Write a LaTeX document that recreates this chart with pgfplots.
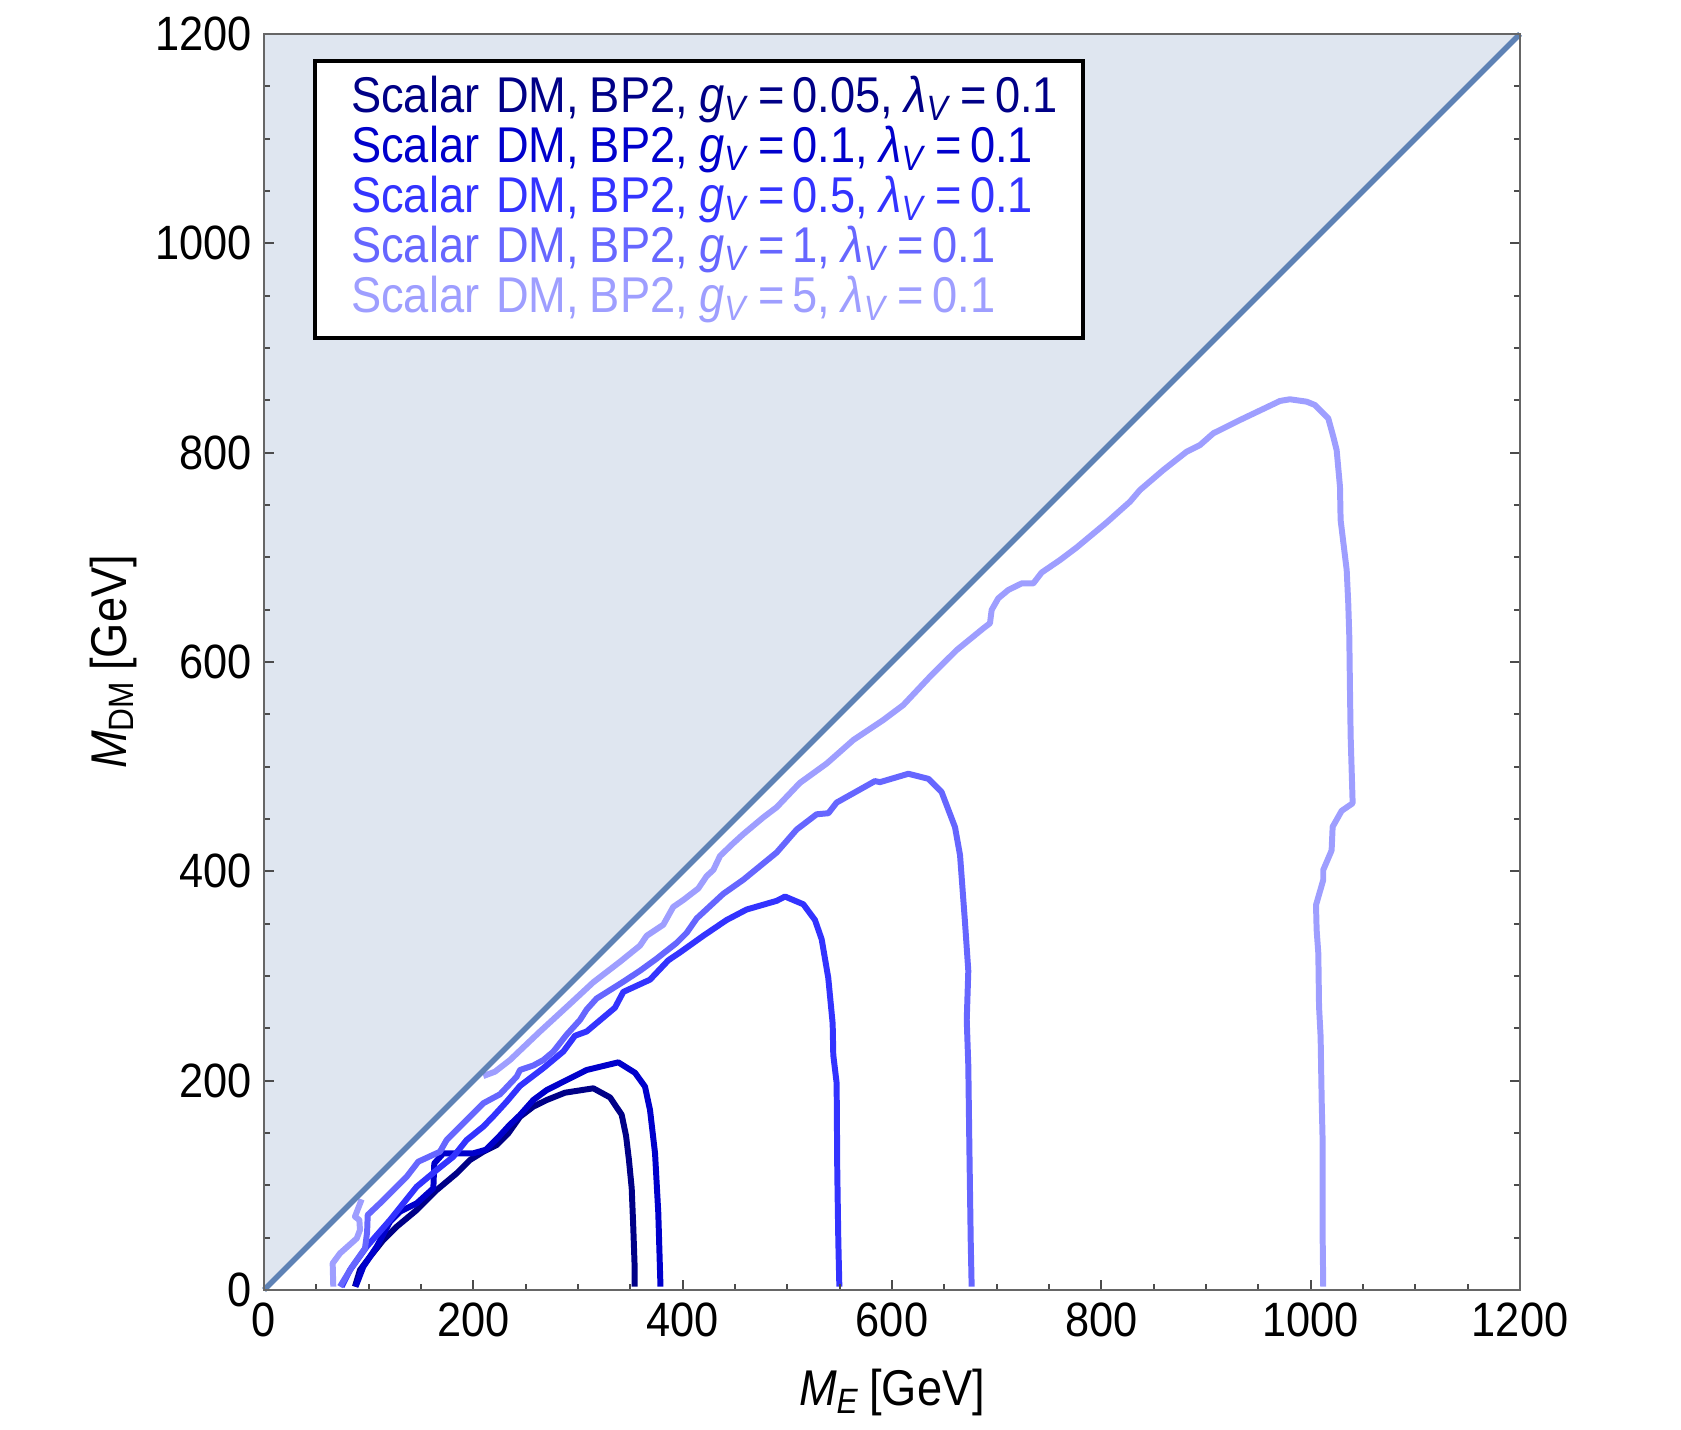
\documentclass[border=0pt]{standalone}
\usepackage{fontspec}
\setmainfont{Liberation Sans}[FakeStretch=0.9, WordSpace=0.75]
\usepackage{pgfplots}
\pgfplotsset{compat=1.18}

\definecolor{cA}{rgb}{0,0,0.53}
\definecolor{cB}{rgb}{0,0,0.8}
\definecolor{cC}{rgb}{0.2,0.2,1}
\definecolor{cD}{rgb}{0.4,0.4,1}
\definecolor{cE}{rgb}{0.62,0.62,1}
\definecolor{diag}{rgb}{0.37,0.51,0.71}
\definecolor{shade}{rgb}{0.874,0.902,0.942}

\newcommand{\entry}[1]{\mbox{Scalar DM,\hspace{0.22em}BP2,\hspace{0.22em}\textit{g}\textsubscript{\textit{V}}\,=\,#1,\hspace{0.22em}\textit{λ}\textsubscript{\textit{V}}\,=\,0.1}}

\begin{document}
\begin{tikzpicture}
\begin{axis}[
  width=12.56cm, height=12.56cm, scale only axis,
  xmin=0, xmax=1200, ymin=0, ymax=1200,
  xtick={0,200,...,1200}, ytick={0,200,...,1200},
  minor x tick num=3, minor y tick num=3,
  xtick pos=left, ytick pos=both,
  tick align=inside,
  major tick length=0.1cm, minor tick length=0.06cm,
  axis line style={draw=black!60, line width=0.6pt},
  every tick/.style={black!70, line width=0.5pt},
  axis on top, clip=false,
  tick label style={font=\fontsize{13.7}{13.7}\selectfont},
  /pgf/number format/assume math mode=true,
  /pgf/number format/1000 sep={},
  label style={font=\fontsize{14.3}{14.3}\selectfont},
  xlabel={\textit{M}\textsubscript{\textit{E}} [GeV]},
  ylabel={\textit{M}\textsubscript{DM} [GeV]},
  xlabel style={at={(axis description cs:0.5,-0.082)}, anchor=center},
  ylabel style={at={(axis description cs:-0.12,0.5)}, anchor=center},
  every axis plot/.append style={line join=round, line width=1.7pt},
]
% excluded region M_DM > M_E
\addplot [fill=shade, draw=none] coordinates {(0,0) (1200,1200) (0,1200) (0,0)};

% g_V = 0.05
\addplot [cA] coordinates {
(86.9,3.2) (91.7,19.1) (101.3,31.8) (114,47.8) (126.8,60.5) (145.9,76.4)
(165,95.5) (184.1,111.5) (196.8,124.2) (209.5,132.1) (222.3,138.5) (233.4,149.7)
(244.6,165.5) (257.3,175.2) (270.1,181.5) (287.6,188.5) (314.6,192.7) (330.6,184)
(341.7,167.5) (345.9,147.4) (348.7,124) (351.3,97.2) (352.8,60.3) (354,25.5) (354,3.2)};

% g_V = 0.1
\addplot [cB] coordinates {
(87.5,3.2) (94.9,22.3) (107.7,41.4) (120.4,65.3) (129.9,74.9) (145.9,82.8)
(161.8,97.2) (162.7,121) (171.3,130.6) (199.9,130.6) (212,134) (224,146)
(234,157) (244.6,167.2) (257.3,181.5) (270.1,191) (292.4,202.2) (308.3,210.2)
(338.5,217.5) (354.5,207.5) (364,194.3) (368.8,172) (373.6,130.7) (376.7,73.8) (378.8,3.2)};

% g_V = 0.5
\addplot [cC] coordinates {
(74.2,3.2) (82.2,19.1) (98.1,41.4) (120.4,66.9) (133.1,82.8) (145.9,98.7)
(165,114.6) (180.9,127.4) (193.6,143.3) (209.5,156.1) (219.1,166) (231.9,180)
(244.6,195) (266.9,212) (286,227.9) (297.1,242.9) (308.3,247) (335.3,269.7)
(343.3,284.8) (368.8,296.5) (386.3,315) (397.4,322.5) (419.7,338.4) (442,353.5)
(461.1,363.5) (489.8,371.8) (497.8,375.9) (515.3,368.5) (526.4,353.5) (532.8,335.1)
(539.1,298.2) (543.3,254.6) (543.9,224.5) (547.1,197.7) (547.7,113.9) (548.7,46.9) (549.7,3.2)};

% g_V = 1
\addplot [cD] coordinates {
(72.6,3.2) (84,22) (96.5,39.8) (98.5,55) (99.1,71.7) (110.8,82.8)
(123.5,95.5) (136.3,108.2) (147.4,122.6) (168.1,132.1) (174.5,143.3) (193.6,162.4)
(209.5,178.4) (225.5,187) (241.4,203.8) (244.6,210.2) (257.3,214.5) (266.9,219.7)
(276.4,227.7) (289.2,244) (301.9,258) (308.3,268) (317.8,278.5) (341.7,293.5)
(359.2,305) (375.2,316.6) (394.3,331.7) (403.8,341.2) (413.4,355) (438.8,378.5)
(458,392) (489.8,418) (509,440) (528,454.5) (539.2,455.5) (547.1,465.7)
(583.7,486.2) (588.5,485.2) (615.6,493.2) (634.7,488.4) (647.4,475.7) (660.2,442.2)
(665,415.4) (669.7,351.8) (672.9,304.9) (671.4,258) (672.9,214.4) (673.9,137.4)
(675.2,46.9) (676.1,3.2)};

% g_V = 5 (two visible pieces)
\addplot [cE] coordinates {
(66.2,3.2) (65.6,25.5) (72.6,35) (88.6,49.3) (91.7,57.3) (91.1,66.9)
(86.9,70.1) (93.3,86.6)};
\addplot [cE] coordinates {
(209.5,204.4) (220.7,208.6) (235,219.7) (263.7,247) (292,273) (314.6,294)
(340,313.5) (359.2,329) (365.6,338.4) (381.5,349) (391,366) (400.6,372.6)
(414.9,383.6) (422.9,395.4) (429.3,401.3) (435.7,414.7) (448.3,426.8) (457.9,435.5)
(477,451.5) (489.8,461.2) (512,484.5) (537.6,503) (563.1,525.5) (591.7,544.6)
(610.8,558.9) (636.3,586) (661.8,611.4) (687.3,632.2) (693.6,637) (695.2,649.7)
(701.5,660.8) (711.1,668.8) (723.9,675.1) (735,675.1) (743,685.5) (760.5,697.4)
(776.4,709.4) (805.1,733.3) (827.4,753.2) (836.9,764.3) (859.2,783.4) (881.5,800.9)
(894.3,807.3) (907,818.5) (926.1,828) (932.5,831.2) (970.7,849.4) (980.2,851)
(996.2,848.7) (1004.1,845.5) (1016.8,832.8) (1021.6,815.3) (1024.8,802.5) (1028,767.5)
(1028.6,735.6) (1034.4,687.9) (1035.9,656.1) (1036.9,624.2) (1037.5,576.4) (1038.2,528.6)
(1040.1,465) (1029.6,457.8) (1021,442.6) (1020,420) (1012,401.3) (1012,391.7)
(1005.1,367.8) (1005.7,343.9) (1007.3,321.7) (1008,270.7) (1009.5,242) (1010.5,181.5)
(1011.4,143.3) (1011.4,54.2) (1012,3.2)};

% M_DM = M_E
\addplot [diag, line width=1.6pt] coordinates {(0,0) (1200,1200)};

\node [draw=black, line width=1.2pt, fill=white, anchor=north west,
       inner xsep=0.36cm, text width=6.96cm, minimum height=2.77cm, align=left,
       font=\fontsize{14.3}{14.2}\selectfont] at (axis cs:46.8,1176) {%
\textcolor{cA}{\entry{0.05}}\\
\textcolor{cB}{\entry{0.1}}\\
\textcolor{cC}{\entry{0.5}}\\
\textcolor{cD}{\entry{1}}\\
\textcolor{cE}{\entry{5}}};
\end{axis}
\path (-2.64,-1.40) rectangle (14.17,12.90);
\end{tikzpicture}
\end{document}
